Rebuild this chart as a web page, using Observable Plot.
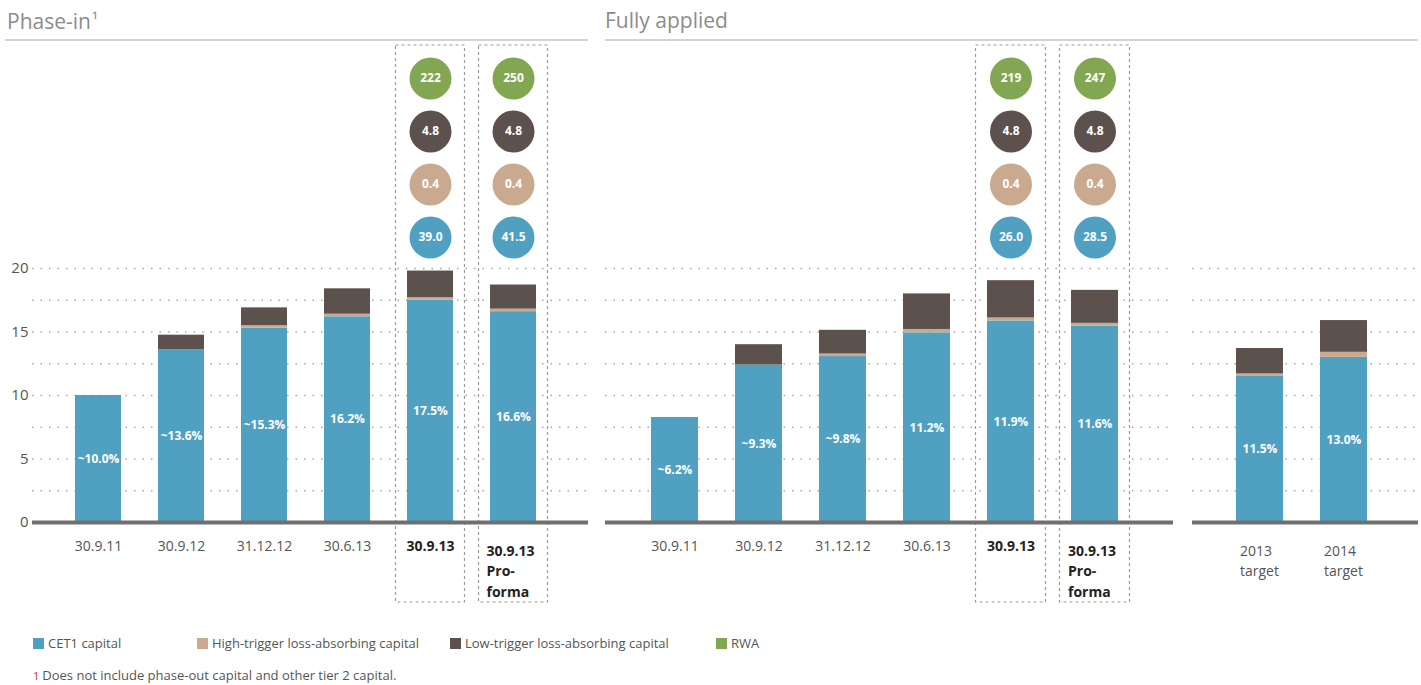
<!DOCTYPE html>
<html>
<head>
<meta charset="utf-8">
<script src="https://cdn.jsdelivr.net/npm/d3@7"></script>
<script src="https://cdn.jsdelivr.net/npm/@observablehq/plot@0.6"></script>
<style>
  html, body { margin: 0; padding: 0; background: #fff; }
  #chart { position: relative; width: 1421px; height: 685px; font-family: "Open Sans", sans-serif; overflow: hidden; }
  .title { position: absolute; top: 5px; font-size: 21px; color: #8c8c8c; line-height: 30px; }
  .title .sup { font-size: 17px; vertical-align: 3px; margin-left: 1px; }
  .rule { position: absolute; top: 39px; height: 2px; background: #d4d4d4; }
  .plot { position: absolute; }
  .plot svg { overflow: visible; }
  .legend { position: absolute; top: 634px; left: 0; font-size: 13px; color: #555; }
  .legend .item { position: absolute; white-space: nowrap; line-height: 18px; }
  .legend .sw { display: inline-block; width: 11px; height: 11px; vertical-align: -1px; margin-right: 4px; }
  .foot { position: absolute; top: 666px; left: 33px; font-size: 13px; color: #555; white-space: nowrap; }
  .foot .mk { color: #d0312d; font-size: 11px; margin-right: 3px; }
</style>
</head>
<body>
<div id="chart">
  <div class="title" style="left:7px">Phase-in<span class="sup">¹</span></div>
  <div class="rule" style="left:5px;width:583px"></div>
  <div class="title" style="left:605px">Fully applied</div>
  <div class="rule" style="left:605px;width:813px"></div>
  <div id="p1b" class="plot"></div><div id="p1c" class="plot"></div>
  <div id="p2b" class="plot"></div><div id="p2c" class="plot"></div>
  <div id="p3b" class="plot"></div>
  <div class="legend" id="legend"></div>
  <div class="foot"><span class="mk">1</span>Does not include phase-out capital and other tier 2 capital.</div>
</div>
<script>
// ---------- DATA ----------
const seriesNames = ["CET1 capital", "High-trigger loss-absorbing capital", "Low-trigger loss-absorbing capital", "RWA"];
const seriesColors = ["#50a0c2", "#c9aa8f", "#5c514c", "#82a651"];

const periodCats = ["30.9.11", "30.9.12", "31.12.12", "30.6.13", "30.9.13", "30.9.13 Pro-forma"];
const periodTicks = ["30.9.11", "30.9.12", "31.12.12", "30.6.13", "30.9.13", "30.9.13\nPro-\nforma"];
const highlightCats = ["30.9.13", "30.9.13 Pro-forma"];

// Phase-in (% of RWA)
const phaseCET1 = [10.0, 13.6, 15.3, 16.2, 17.5, 16.6];
const phaseHigh = [0, 0, 0.2, 0.2, 0.2, 0.2];
const phaseLow  = [0, 1.15, 1.4, 2.0, 2.1, 1.9];
const phasePct  = ["~10.0%", "~13.6%", "~15.3%", "16.2%", "17.5%", "16.6%"];

// Fully applied (% of RWA)
const fullCET1 = [6.2, 9.3, 9.8, 11.2, 11.9, 11.6];
const fullHigh = [0, 0, 0.15, 0.2, 0.18, 0.16];
const fullLow  = [0, 1.2, 1.4, 2.1, 2.2, 1.95];
const fullPct  = ["~6.2%", "~9.3%", "~9.8%", "11.2%", "11.9%", "11.6%"];

// Targets
const targetCats  = ["2013 target", "2014 target"];
const targetTicks = ["2013\ntarget", "2014\ntarget"];
const targetCET1 = [11.5, 13.0];
const targetHigh = [0.2, 0.4];
const targetLow  = [2.0, 2.5];
const targetPct  = ["11.5%", "13.0%"];

// Circles (CHF bn): order RWA, Low-trigger, High-trigger, CET1
const circleOrder = ["RWA", "Low-trigger loss-absorbing capital", "High-trigger loss-absorbing capital", "CET1 capital"];
const phaseCircles = [[222, 4.8, 0.4, 39.0], [250, 4.8, 0.4, 41.5]];
const fullCircles  = [[219, 4.8, 0.4, 26.0], [247, 4.8, 0.4, 28.5]];

const yTicksLeft = [0, 5, 10, 15, 20];

// ---------- BUILD ----------
const color = {domain: seriesNames, range: seriesColors};
const FONT = "'Open Sans', sans-serif";

function stackRows(cats, cet1, high, low) {
  const rows = [];
  cats.forEach((c, i) => {
    rows.push({cat: c, series: seriesNames[0], value: cet1[i]});
    rows.push({cat: c, series: seriesNames[1], value: high[i]});
    rows.push({cat: c, series: seriesNames[2], value: low[i]});
  });
  return rows;
}

function tickMarks(rows, multiDx, bold) {
  const base = {x: "cat", text: "text", frameAnchor: "bottom", lineAnchor: "top", dy: 19, fontSize: 14,
    fill: bold ? "#222" : "#555", fontWeight: bold ? "bold" : "normal"};
  return [
    Plot.text(rows.filter(d => !d.multi), base),
    Plot.text(rows.filter(d => d.multi), {...base, lineHeight: 1.45, textAnchor: "start", dx: multiDx})
  ];
}

function barsPlot(o) {
  const rows = stackRows(o.cats, o.cet1, o.high, o.low);
  const grid = d3.range(1, 9).map(i => i * o.ymax / 8);
  const labelRows = o.cats.map((c, i) => ({cat: c, mid: o.cet1[i] / 2, text: o.pct[i]}));
  const tickRows = o.cats.map((c, i) => ({cat: c, text: o.ticks[i], multi: o.ticks[i].includes("\n"), bold: o.bold.includes(c)}));
  const marks = [
    Plot.ruleY(grid, {stroke: "#a8a8a8", strokeWidth: 1.4, strokeDasharray: "1.5,7"}),
    Plot.barY(o.highlight, {x: d => d, y1: 0, y2: o.ymax, fill: "none", stroke: "#9a9a9a", strokeWidth: 1.2,
      strokeDasharray: "3,3", insetLeft: -11.5, insetRight: -11.5, insetTop: -223, insetBottom: -80}),
    Plot.barY(rows, {x: "cat", y: "value", fill: "series", order: seriesNames}),
    Plot.ruleY([0], {stroke: "#707070", strokeWidth: 4}),
    Plot.text(labelRows, {x: "cat", y: "mid", text: "text", fill: "#fff", fontWeight: "bold", fontSize: 12}),
    ...tickMarks(tickRows.filter(d => !d.bold), o.multiDx, false),
    ...tickMarks(tickRows.filter(d => d.bold), o.multiDx, true)
  ];
  if (o.yAxis) marks.push(Plot.axisY(yTicksLeft, {tickSize: 0, tickPadding: 4, fontSize: 15, fill: "#555", label: null}));
  return Plot.plot({
    width: o.width, height: 570,
    marginTop: 228, marginBottom: 88, marginLeft: o.marginLeft, marginRight: 2,
    x: {type: "band", domain: o.cats, paddingInner: 0.44, paddingOuter: o.po, align: 0.46, axis: null},
    y: {domain: [0, o.ymax], axis: null},
    color,
    style: {fontFamily: FONT, background: "transparent", overflow: "visible"},
    marks
  });
}

function circlesPlot(o) {
  const rows = [];
  o.highlight.forEach((c, j) => {
    circleOrder.forEach((s, k) => {
      const v = o.values[j][k];
      rows.push({cat: c, series: s, value: v, text: s === "RWA" ? d3.format("d")(v) : d3.format(".1f")(v)});
    });
  });
  return Plot.plot({
    width: o.width, height: 215,
    marginTop: 27, marginBottom: 27, marginLeft: o.marginLeft, marginRight: 2,
    x: {type: "band", domain: o.cats, paddingInner: 0.44, paddingOuter: o.po, align: 0.46, axis: null},
    y: {type: "point", domain: circleOrder, padding: 0, axis: null},
    color,
    style: {fontFamily: FONT, background: "transparent", overflow: "visible"},
    marks: [
      Plot.dot(rows, {x: "cat", y: "series", r: 21, fill: "series"}),
      Plot.text(rows, {x: "cat", y: "series", text: "text", fill: "#fff", fontWeight: "bold", fontSize: 12})
    ]
  });
}

function place(id, left, top, node) {
  const el = document.getElementById(id);
  el.style.left = left + "px";
  el.style.top = top + "px";
  el.appendChild(node);
}

// Phase-in panel
const p1 = {cats: periodCats, ticks: periodTicks, bold: highlightCats, highlight: highlightCats,
  cet1: phaseCET1, high: phaseHigh, low: phaseLow, pct: phasePct, ymax: 20,
  width: 590, marginLeft: 32, po: 0.53, yAxis: true, multiDx: -27, values: phaseCircles};
place("p1b", 0, 40, barsPlot(p1));
place("p1c", 0, 50, circlesPlot(p1));

// Fully applied panel
const p2 = {cats: periodCats, ticks: periodTicks, bold: highlightCats, highlight: highlightCats,
  cet1: fullCET1, high: fullHigh, low: fullLow, pct: fullPct, ymax: 15,
  width: 575, marginLeft: 5, po: 0.6, yAxis: false, multiDx: -27, values: fullCircles};
place("p2b", 600, 40, barsPlot(p2));
place("p2c", 600, 50, circlesPlot(p2));

// Targets panel
const p3 = {cats: targetCats, ticks: targetTicks, bold: [], highlight: [],
  cet1: targetCET1, high: targetHigh, low: targetLow, pct: targetPct, ymax: 20,
  width: 233, marginLeft: 5, po: 0.565, yAxis: false, multiDx: -20};
place("p3b", 1187, 40, barsPlot(p3));

// Legend
const legendLefts = [33, 197, 450, 716];
const legend = document.getElementById("legend");
seriesNames.forEach((s, i) => {
  const it = document.createElement("div");
  it.className = "item";
  it.style.left = legendLefts[i] + "px";
  it.innerHTML = `<span class="sw" style="background:${seriesColors[i]}"></span>${s}`;
  legend.appendChild(it);
});
</script>
</body>
</html>
